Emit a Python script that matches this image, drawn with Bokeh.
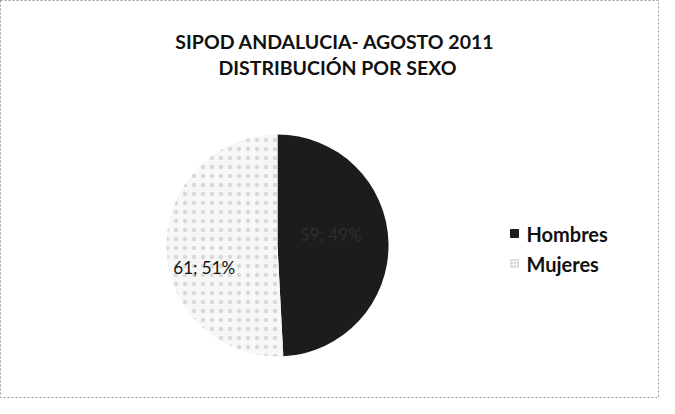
import math
from bokeh.plotting import figure
from bokeh.models import Range1d, ColumnDataSource
from bokeh.core.properties import value
from bokeh.embed import file_html
from bokeh.resources import INLINE

title_lines = ["SIPOD  ANDALUCIA- AGOSTO 2011", "DISTRIBUCIÓN POR SEXO"]
categories = ["Hombres", "Mujeres"]
counts = [59, 61]
percents = [49, 51]
colors = ["#1c1c1c", "#f7f7f7"]

W, H = 659, 398
p = figure(width=W, height=H, output_backend="svg", toolbar_location=None,
           x_range=Range1d(0, W), y_range=Range1d(0, H), min_border=0)
p.axis.visible = False
p.grid.visible = False
p.outline_line_color = "#9a9a9a"
p.outline_line_dash = "2 2"
p.outline_line_width = 1
p.background_fill_color = "white"

cx, cy, r = 277, 153, 111
total = sum(counts)
starts, ends = [], []
a = math.pi / 2
for c in counts:
    sweep = 2 * math.pi * c / total
    ends.append(a)
    starts.append(a - sweep)
    a -= sweep

src = ColumnDataSource(dict(start=starts, end=ends, color=colors,
                            hatch=["blank", "dot"]))
p.wedge(x=cx, y=cy, radius=r, start_angle="start", end_angle="end",
        fill_color="color", line_color=None, hatch_pattern="hatch",
        hatch_color="#a0a0a0", hatch_scale=9, hatch_alpha=0.35, source=src)

# labels
lab_r = [0.48, 0.66]
lab_dy = [10, -20]
lx, ly, lt = [], [], []
for i in range(len(counts)):
    mid = (starts[i] + ends[i]) / 2
    lx.append(cx + lab_r[i] * r * math.cos(mid))
    ly.append(cy + lab_r[i] * r * math.sin(mid) + lab_dy[i])
    lt.append(f"{counts[i]}; {percents[i]}%")
p.text(x=lx, y=ly, text=lt, text_color=["#2e2e2e", "#111111"],
       text_font=value("Lato"), text_font_size="17px",
       text_align="center", text_baseline="middle")

# title
p.text(x=[337, 337], y=[H - 41, H - 67], text=title_lines,
       text_font=value("Lato"), text_font_size="19.5px", text_font_style="bold",
       text_align="center", text_baseline="middle", text_color="#111111")

# legend
ly0 = [H - 233, H - 263]
p.scatter(x=[514, 514], y=ly0, marker="square", size=8,
          fill_color=colors, line_color=["#1c1c1c", "#dddddd"],
          hatch_pattern=["blank", "dot"], hatch_color="#aaaaaa", hatch_scale=3)
p.text(x=[526, 526], y=ly0, text=categories, text_font=value("Lato"),
       text_font_size="20px", text_font_style="bold", text_color="#111111",
       text_align="left", text_baseline="middle")

open("out.html", "w").write(file_html(p, INLINE))
